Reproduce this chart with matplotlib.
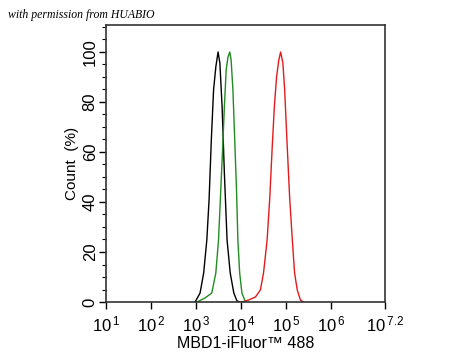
import numpy as np
import matplotlib
matplotlib.use("Agg")
import matplotlib.pyplot as plt
from matplotlib.ticker import MultipleLocator, LogLocator, NullFormatter, FixedLocator

plt.rcParams['font.family'] = ['Liberation Sans', 'DejaVu Sans']
plt.rcParams['mathtext.fontset'] = 'custom'
plt.rcParams['mathtext.rm'] = 'Liberation Sans'
plt.rcParams['mathtext.default'] = 'regular'

# log10 of intensity and count (%)
black_exp = [2.98, 3.09, 3.17, 3.24, 3.29, 3.34, 3.39, 3.44, 3.49, 3.53, 3.58, 3.63, 3.69, 3.76, 3.84, 3.91, 3.98]
black_cnt = [0, 3.6, 11.6, 24.8, 40.8, 64.8, 84.8, 94, 100, 95.6, 78, 51.6, 24.8, 11.6, 3.6, 0.4, 0]

green_exp = [3.02, 3.20, 3.35, 3.44, 3.50, 3.55, 3.59, 3.63, 3.67, 3.71, 3.75, 3.78, 3.82, 3.86, 3.90, 3.93, 3.97, 4.02, 4.10]
green_cnt = [0, 1.6, 3.6, 11.6, 24.8, 44.8, 60.8, 78, 92.8, 98, 100, 96.8, 84.8, 64.8, 44.8, 24.8, 11.6, 3.6, 0]

red_exp = [4.02, 4.17, 4.32, 4.43, 4.50, 4.58, 4.64, 4.69, 4.74, 4.79, 4.84, 4.88, 4.93, 4.97, 5.02, 5.08, 5.14, 5.19, 5.25, 5.32, 5.39]
red_cnt = [0, 0.8, 2, 4.8, 11.6, 24.8, 42, 60.8, 78, 90, 96.8, 100, 95.6, 84.8, 64.8, 42, 24.8, 11.6, 4.8, 0.8, 0]

xtick_exp = [1, 2, 3, 4, 5, 6, 7.2]
xtick_lbl = ['1', '2', '3', '4', '5', '6', '7.2']

fig = plt.figure(figsize=(4.5, 3.6), dpi=100)
ax = fig.add_axes([0.2356, 0.1611, 0.62, 0.7695])

ax.plot(10 ** np.array(black_exp), black_cnt, color='black', lw=1.0)
ax.plot(10 ** np.array(green_exp), green_cnt, color='#228b22', lw=1.0)
ax.plot(10 ** np.array(red_exp), red_cnt, color='#e41a1c', lw=1.0)

ax.set_xscale('log')
ax.set_xlim(10 ** 1, 10 ** 7.2)
ax.set_ylim(0, 110.8)

ax.xaxis.set_major_locator(FixedLocator([10 ** e for e in xtick_exp]))
ax.set_xticklabels(['$10^{\\,%s}$' % s for s in xtick_lbl])
ax.xaxis.set_minor_locator(LogLocator(base=10, subs=np.arange(2, 10)))
ax.xaxis.set_minor_formatter(NullFormatter())

ax.yaxis.set_minor_locator(MultipleLocator(5))
ax.set_yticks(range(0, 101, 20))
ax.set_yticklabels([str(v) for v in range(0, 101, 20)], rotation=90, va='center')

ax.tick_params(axis='both', which='major', direction='out', length=5, width=1, labelsize=12, colors='black')
ax.tick_params(axis='both', which='minor', direction='out', length=3, width=0.8)
ax.tick_params(top=False, right=False, which='both')
ax.tick_params(axis='x', pad=4)
ax.tick_params(axis='y', pad=1)

for s in ax.spines.values():
    s.set_color('#333333')
    s.set_linewidth(1.2)

ax.set_xlabel('MBD1-iFluor\u2122 488', fontsize=11.5, labelpad=1)
ax.set_ylabel('Count  (%)', fontsize=11, labelpad=3)

fig.text(0.018, 0.958, 'with permission from HUABIO', fontsize=8.5, style='italic',
         family=['Liberation Serif', 'DejaVu Serif'], va='center')

fig.savefig('out.png', dpi=100)
